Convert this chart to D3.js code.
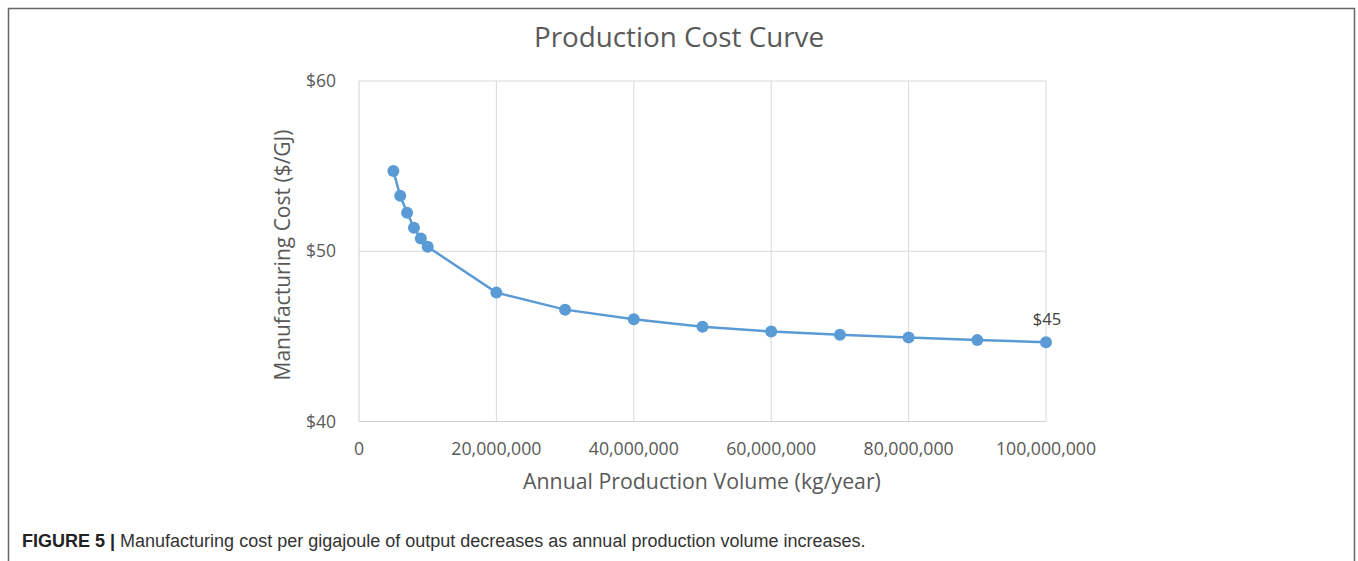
<!doctype HTML>
<html>
<head>
    <style>
        body { margin: 0; background: #fff; }
        svg text { font-family: "Open Sans", "Noto Sans", sans-serif; }
    </style>
    <script src="https://d3js.org/d3.v7.min.js"></script>
</head>
<body>
<div id="chart"></div>
<script>

    // data
    var volumes = [5e6, 6e6, 7e6, 8e6, 9e6, 10e6, 20e6, 30e6, 40e6, 50e6, 60e6, 70e6, 80e6, 90e6, 100e6];
    var costs = [54.72, 53.26, 52.26, 51.38, 50.75, 50.26, 47.57, 46.57, 46.0, 45.57, 45.28, 45.10, 44.93, 44.78, 44.66];
    var xTicks = [0, 20e6, 40e6, 60e6, 80e6, 100e6];
    var yTicks = [40, 50, 60];

    var canvasWidth = 1358;
    var canvasHeight = 561;

    var svg = d3.select("#chart").append("svg")
        .attr("width", canvasWidth)
        .attr("height", canvasHeight)

    // outer frame (open at the bottom)
    svg.append("path")
        .attr("d", "M8.5,561 V8.5 H1354.5 V561")
        .attr("fill", "none")
        .attr("stroke", "#666")
        .attr("stroke-width", 1.5)

    var x = d3.scaleLinear().domain([0, 100e6]).range([359, 1046]);
    var y = d3.scaleLinear().domain([40, 60]).range([421.5, 81]);

    // gridlines
    svg.append("g").selectAll("line")
        .data(xTicks.slice(1))
        .join("line")
        .attr("x1", d => x(d)).attr("x2", d => x(d))
        .attr("y1", y(60)).attr("y2", y(40))
        .attr("stroke", "#d9d9d9").attr("stroke-width", 1)

    svg.append("g").selectAll("line")
        .data(yTicks.slice(1))
        .join("line")
        .attr("x1", x(0)).attr("x2", x(100e6))
        .attr("y1", d => y(d)).attr("y2", d => y(d))
        .attr("stroke", "#d9d9d9").attr("stroke-width", 1)

    // axis lines
    svg.append("line")
        .attr("x1", x(0)).attr("x2", x(0))
        .attr("y1", y(60)).attr("y2", y(40))
        .attr("stroke", "#d0d0d0")
    svg.append("line")
        .attr("x1", x(0)).attr("x2", x(100e6))
        .attr("y1", y(40)).attr("y2", y(40))
        .attr("stroke", "#d0d0d0")

    // tick labels
    var fmt = d3.format(",");
    svg.append("g").selectAll("text")
        .data(xTicks)
        .join("text")
        .attr("x", d => x(d))
        .attr("y", 455)
        .attr("text-anchor", "middle")
        .attr("font-size", "17.7px")
        .attr("fill", "#595959")
        .text(d => fmt(d))

    svg.append("g").selectAll("text")
        .data(yTicks)
        .join("text")
        .attr("x", 336)
        .attr("y", d => y(d) + 6)
        .attr("text-anchor", "end")
        .attr("font-size", "17.5px")
        .attr("fill", "#595959")
        .text(d => "$" + d)

    // titles
    svg.append("text")
        .attr("x", 679)
        .attr("y", 47)
        .attr("text-anchor", "middle")
        .attr("font-size", "27.8px")
        .attr("fill", "#595959")
        .text("Production Cost Curve")

    svg.append("text")
        .attr("x", 702)
        .attr("y", 489)
        .attr("text-anchor", "middle")
        .attr("font-size", "21.3px")
        .attr("fill", "#595959")
        .text("Annual Production Volume (kg/year)")

    svg.append("text")
        .attr("transform", "translate(290, 255) rotate(-90)")
        .attr("text-anchor", "middle")
        .attr("font-size", "21px")
        .attr("fill", "#595959")
        .text("Manufacturing Cost ($/GJ)")

    // line + markers
    var points = volumes.map((v, i) => ({v: v, c: costs[i]}));

    svg.append("path")
        .datum(points)
        .attr("fill", "none")
        .attr("stroke", "#5b9bd5")
        .attr("stroke-width", 2.5)
        .attr("d", d3.line().x(d => x(d.v)).y(d => y(d.c)))

    svg.append("g").selectAll("circle")
        .data(points)
        .join("circle")
        .attr("cx", d => x(d.v))
        .attr("cy", d => y(d.c))
        .attr("r", 6)
        .attr("fill", "#5b9bd5")

    // data label on the last point
    var last = points[points.length - 1];
    svg.append("text")
        .attr("x", x(last.v) + 1)
        .attr("y", y(last.c) - 17)
        .attr("text-anchor", "middle")
        .attr("font-size", "16.5px")
        .attr("fill", "#404040")
        .text("$" + Math.round(last.c))

    // caption
    var cap = svg.append("text")
        .attr("x", 22)
        .attr("y", 547)
        .attr("font-size", "18px")
        .attr("fill", "#333")
        .style("font-family", "'Liberation Sans', Arial, sans-serif")
    cap.append("tspan").attr("font-weight", "bold").attr("fill", "#222").text("FIGURE 5 | ")
    cap.append("tspan").text("Manufacturing cost per gigajoule of output decreases as annual production volume increases.")

</script>
</body>
</html>
